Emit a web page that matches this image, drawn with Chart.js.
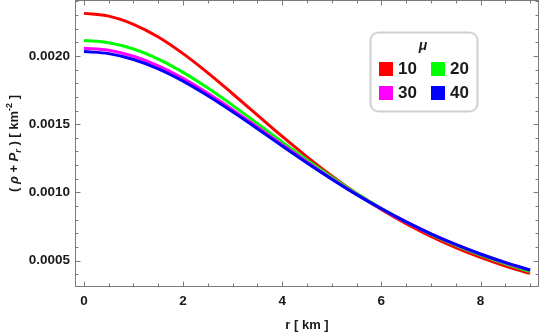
<!DOCTYPE html>
<html>
<head>
<meta charset="utf-8">
<script src="https://cdn.jsdelivr.net/npm/chart.js@4/dist/chart.umd.min.js"></script>
<style>
  html, body { margin: 0; padding: 0; background: #fff; }
  #wrap { width: 540px; height: 334px; position: relative; }
</style>
</head>
<body>
<div id="wrap"><canvas id="c" width="540" height="334"></canvas></div>
<script>
// ---- data ----
const rValues = [0, 0.5, 1, 1.5, 2, 2.5, 3, 3.5, 4, 4.5, 5, 5.5, 6, 6.5, 7, 7.5, 8, 8.5, 9];
const mu10 = [0.002312, 0.002292, 0.002232, 0.002139, 0.002017, 0.001876, 0.001723, 0.001566, 0.001410, 0.001261, 0.001121, 0.000992, 0.000875, 0.000771, 0.000678, 0.000596, 0.000524, 0.000461, 0.000407];
const mu20 = [0.002113, 0.002097, 0.002051, 0.001977, 0.001880, 0.001765, 0.001638, 0.001505, 0.001370, 0.001238, 0.001112, 0.000993, 0.000883, 0.000783, 0.000693, 0.000612, 0.000540, 0.000476, 0.000420];
const mu30 = [0.002057, 0.002042, 0.001998, 0.001928, 0.001836, 0.001726, 0.001606, 0.001479, 0.001350, 0.001223, 0.001101, 0.000987, 0.000881, 0.000784, 0.000696, 0.000617, 0.000546, 0.000484, 0.000429];
const mu40 = [0.002032, 0.002017, 0.001974, 0.001906, 0.001816, 0.001709, 0.001591, 0.001467, 0.001340, 0.001216, 0.001097, 0.000984, 0.000880, 0.000784, 0.000697, 0.000619, 0.000549, 0.000487, 0.000432];
const seriesLabels = ['10', '20', '30', '40'];
const seriesColors = ['#ff0000', '#00ff00', '#ff00ff', '#0000ff'];
const xTicks = [0, 2, 4, 6, 8];
const yTicks = [0.0005, 0.0010, 0.0015, 0.0020];
const legendTitle = 'μ';
const xTitle = 'r [ km ]';

const allSeries = [mu10, mu20, mu30, mu40];
const datasets = allSeries.map((s, i) => ({
  label: seriesLabels[i],
  data: rValues.map((r, j) => ({ x: r, y: s[j] })),
  borderColor: seriesColors[i],
  backgroundColor: seriesColors[i],
  borderWidth: 3,
  pointRadius: 0,
  fill: false,
  cubicInterpolationMode: 'monotone',
  order: allSeries.length - i
}));

const textColor = '#1a1a1a';
const frameColor = '#7a7a7a';
const FONT = '"Liberation Sans", Arial, sans-serif';

const bgPlugin = {
  id: 'bg',
  beforeDraw(chart) {
    const ctx = chart.ctx;
    ctx.save();
    ctx.fillStyle = '#fff';
    ctx.fillRect(0, 0, chart.width, chart.height);
    ctx.restore();
  }
};

const framePlugin = {
  id: 'frame',
  afterDraw(chart) {
    const ctx = chart.ctx;
    const a = chart.chartArea;
    const xs = chart.scales.x, ys = chart.scales.y;
    const L = Math.round(a.left) + 0.5, R = Math.round(a.right) - 0.5;
    const T = Math.round(a.top) + 0.5, B = Math.round(a.bottom) - 0.5;
    ctx.save();
    ctx.strokeStyle = frameColor;
    ctx.lineWidth = 1;
    ctx.strokeRect(L, T, R - L, B - T);
    ctx.beginPath();
    for (let k = 0; k <= 18; k++) {
      const v = k * 0.5;
      const major = xTicks.includes(v);
      const len = major ? 5 : 3;
      const px = Math.round(xs.getPixelForValue(v)) + 0.5;
      ctx.moveTo(px, B); ctx.lineTo(px, B - len);
      ctx.moveTo(px, T); ctx.lineTo(px, T + len);
    }
    for (let k = 4; k <= 24; k++) {
      const v = k * 0.0001;
      const major = yTicks.some(t => Math.abs(t - v) < 1e-9);
      const len = major ? 5 : 3;
      const py = Math.round(ys.getPixelForValue(v)) + 0.5;
      if (py < T || py > B) continue;
      ctx.moveTo(L, py); ctx.lineTo(L + len, py);
      ctx.moveTo(R, py); ctx.lineTo(R - len, py);
    }
    ctx.stroke();
    ctx.restore();

    // y axis title with italic, subscript, superscript
    const parts = [
      { t: '( ', it: false, s: 13, dy: 0 },
      { t: 'ρ', it: true, s: 13, dy: 0 },
      { t: ' + ', it: false, s: 13, dy: 0 },
      { t: 'P', it: true, s: 13, dy: 0 },
      { t: 'r', it: true, s: 9, dy: 3 },
      { t: ' ) [ km', it: false, s: 13, dy: 0 },
      { t: '-2', it: false, s: 9, dy: -6 },
      { t: ' ]', it: false, s: 13, dy: 0 }
    ];
    ctx.save();
    ctx.fillStyle = textColor;
    ctx.textBaseline = 'alphabetic';
    const fontOf = p => (p.it ? 'italic ' : '') + 'bold ' + p.s + 'px ' + FONT;
    let total = 0;
    parts.forEach(p => { ctx.font = fontOf(p); p.w = ctx.measureText(p.t).width; total += p.w; });
    const cy = (a.top + a.bottom) / 2;
    ctx.translate(13, cy);
    ctx.rotate(-Math.PI / 2);
    let x = -total / 2;
    parts.forEach(p => {
      ctx.font = fontOf(p);
      ctx.fillText(p.t, x, 4.5 + p.dy);
      x += p.w;
    });
    ctx.restore();

    // legend
    ctx.save();
    const bx = 370.5, by = 32.5, bw = 107, bh = 79, rad = 8;
    ctx.beginPath();
    ctx.moveTo(bx + rad, by);
    ctx.arcTo(bx + bw, by, bx + bw, by + bh, rad);
    ctx.arcTo(bx + bw, by + bh, bx, by + bh, rad);
    ctx.arcTo(bx, by + bh, bx, by, rad);
    ctx.arcTo(bx, by, bx + bw, by, rad);
    ctx.closePath();
    ctx.fillStyle = '#fff';
    ctx.fill();
    ctx.strokeStyle = '#d0d0d0';
    ctx.lineWidth = 2;
    ctx.stroke();
    ctx.fillStyle = textColor;
    ctx.font = 'italic bold 14px ' + FONT;
    ctx.textAlign = 'center';
    ctx.textBaseline = 'middle';
    ctx.fillText(legendTitle, 423, 46);
    ctx.textAlign = 'left';
    ctx.font = 'bold 17px ' + FONT;
    chart.data.datasets.forEach((ds, i) => {
      const col = i % 2, row = Math.floor(i / 2);
      const sx = 379 + col * 52, sy = 62 + row * 24;
      ctx.fillStyle = ds.borderColor;
      ctx.fillRect(sx, sy, 14, 14);
      ctx.fillStyle = textColor;
      ctx.fillText(ds.label, sx + 19, sy + 7.5);
    });
    ctx.restore();
  }
};

function zeroPad(s) { s.paddingLeft = 0; s.paddingRight = 0; s.paddingTop = 0; s.paddingBottom = 0; }

new Chart(document.getElementById('c'), {
  type: 'line',
  data: { datasets },
  options: {
    responsive: false,
    animation: false,
    events: [],
    layout: { padding: { top: 0, right: 1, left: 0, bottom: 0 } },
    plugins: { legend: { display: false }, tooltip: { enabled: false } },
    scales: {
      x: {
        type: 'linear',
        min: -0.18,
        max: 9.18,
        afterBuildTicks: s => { s.ticks = xTicks.map(v => ({ value: v })); },
        afterFit: s => { s.height = 47; zeroPad(s); },
        grid: { display: false, drawTicks: false },
        border: { display: false },
        ticks: {
          autoSkip: false, maxRotation: 0, padding: 6, color: textColor,
          font: { family: FONT, size: 13.5, weight: 'bold' },
          callback: v => String(v)
        },
        title: {
          display: true, text: xTitle, color: textColor,
          font: { family: FONT, size: 13, weight: 'bold' },
          padding: { top: 0, bottom: 1 }
        }
      },
      y: {
        type: 'linear',
        min: 0.000307,
        max: 0.00241,
        afterBuildTicks: s => { s.ticks = yTicks.map(v => ({ value: v })); },
        afterFit: s => { s.width = 75; zeroPad(s); },
        grid: { display: false, drawTicks: false },
        border: { display: false },
        ticks: {
          autoSkip: false, padding: 5, color: textColor,
          font: { family: FONT, size: 13.5, weight: 'bold' },
          callback: v => Number(v).toFixed(4)
        }
      }
    }
  },
  plugins: [bgPlugin, framePlugin]
});
</script>
</body>
</html>
